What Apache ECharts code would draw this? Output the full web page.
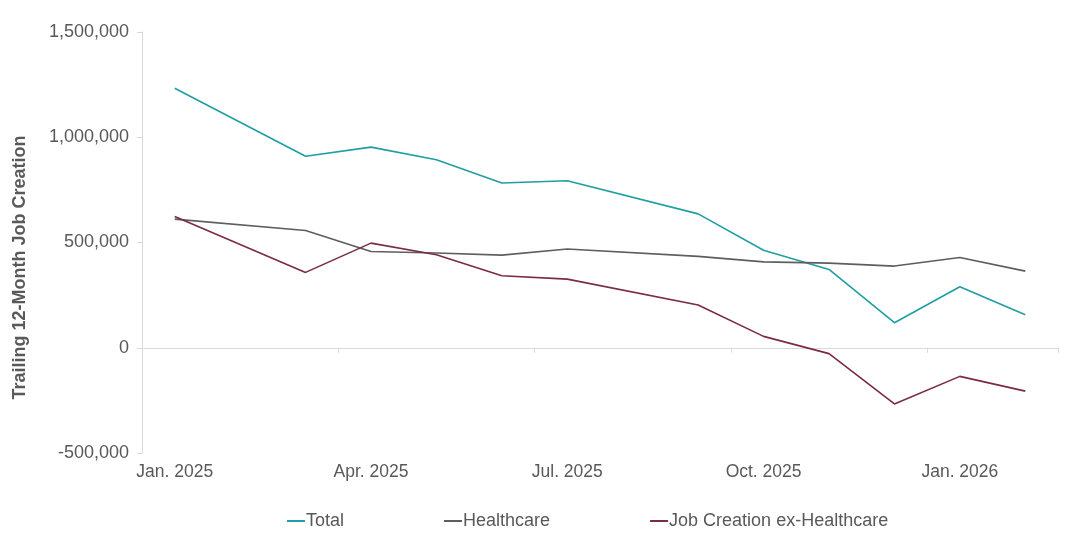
<!DOCTYPE html>
<html>
<head>
<meta charset="utf-8">
<script src="https://cdn.jsdelivr.net/npm/echarts@6/dist/echarts.min.js"></script>
<style>html,body{margin:0;padding:0;background:#fff;}#c{width:1080px;height:541px;}</style>
</head>
<body>
<div id="c"></div>
<script>
const months = ['Jan. 2025','Feb. 2025','Mar. 2025','Apr. 2025','May 2025','Jun. 2025','Jul. 2025','Aug. 2025','Sep. 2025','Oct. 2025','Nov. 2025','Dec. 2025','Jan. 2026','Feb. 2026'];
const total = [1233000, null, 910000, 953000, 893000, 783000, 793000, null, 636000, 463000, 372000, 119000, 290000, 157000];
const healthcare = [611000, null, 557000, 457000, 450000, 440000, 469000, null, 434000, 408000, 402000, 388000, 429000, 364000];
const exHealthcare = [623000, null, 358000, 497000, 442000, 342000, 326000, null, 203000, 54000, -28000, -267000, -136000, -206000];
const yTicks = [-500000, 0, 500000, 1000000, 1500000];

const txt = '#595959';
const font = '"Liberation Sans", Arial, sans-serif';
const chart = echarts.init(document.getElementById('c'));
chart.setOption({
  animation: false,
  textStyle: { fontFamily: font },
  grid: { left: 142, right: 22, top: 32, bottom: 88 },
  legend: {
    top: 507, left: 282, icon: 'rect', itemWidth: 18, itemHeight: 2, itemGap: 100,
    textStyle: { color: txt, fontSize: 18, fontFamily: font, padding: [0, 0, 0, -4] },
    data: ['Total', 'Healthcare', 'Job Creation ex-Healthcare']
  },
  xAxis: [
    {
      type: 'category', data: months, position: 'bottom', boundaryGap: true,
      axisLine: { show: false, onZero: false }, axisTick: { show: false },
      axisLabel: { interval: 2, color: txt, fontSize: 17.5, fontFamily: font, margin: 10 }
    },
    {
      type: 'category', data: months, position: 'bottom', boundaryGap: true,
      axisLine: { show: true, onZero: true, lineStyle: { color: '#d9d9d9', width: 1 } },
      axisTick: { show: true, interval: 2, length: 5, lineStyle: { color: '#d9d9d9' } },
      axisLabel: { show: false }
    }
  ],
  yAxis: {
    type: 'value', min: yTicks[0], max: yTicks[yTicks.length - 1], interval: 500000,
    name: 'Trailing 12-Month Job Creation', nameLocation: 'middle', nameGap: 113,
    nameTextStyle: { color: txt, fontSize: 18, fontWeight: 'bold', fontFamily: font, padding: [0, 50, 0, 0] },
    axisLine: { show: true, lineStyle: { color: '#d9d9d9' } },
    axisTick: { show: true, length: 5, lineStyle: { color: '#d9d9d9' } },
    splitLine: { show: false },
    axisLabel: { color: txt, fontSize: 18, fontFamily: font, margin: 13,
      formatter: v => v.toLocaleString('en-US') }
  },
  series: [
    { name: 'Total', type: 'line', data: total, connectNulls: true, showSymbol: false, symbol: 'none',
      lineStyle: { color: '#1f9ea3', width: 1.6 }, itemStyle: { color: '#1f9ea3' }, xAxisIndex: 0 },
    { name: 'Healthcare', type: 'line', data: healthcare, connectNulls: true, showSymbol: false, symbol: 'none',
      lineStyle: { color: '#5e5e5e', width: 1.6 }, itemStyle: { color: '#5e5e5e' }, xAxisIndex: 0 },
    { name: 'Job Creation ex-Healthcare', type: 'line', data: exHealthcare, connectNulls: true, showSymbol: false, symbol: 'none',
      lineStyle: { color: '#7b2a47', width: 1.6 }, itemStyle: { color: '#7b2a47' }, xAxisIndex: 0 }
  ]
});
</script>
</body>
</html>
